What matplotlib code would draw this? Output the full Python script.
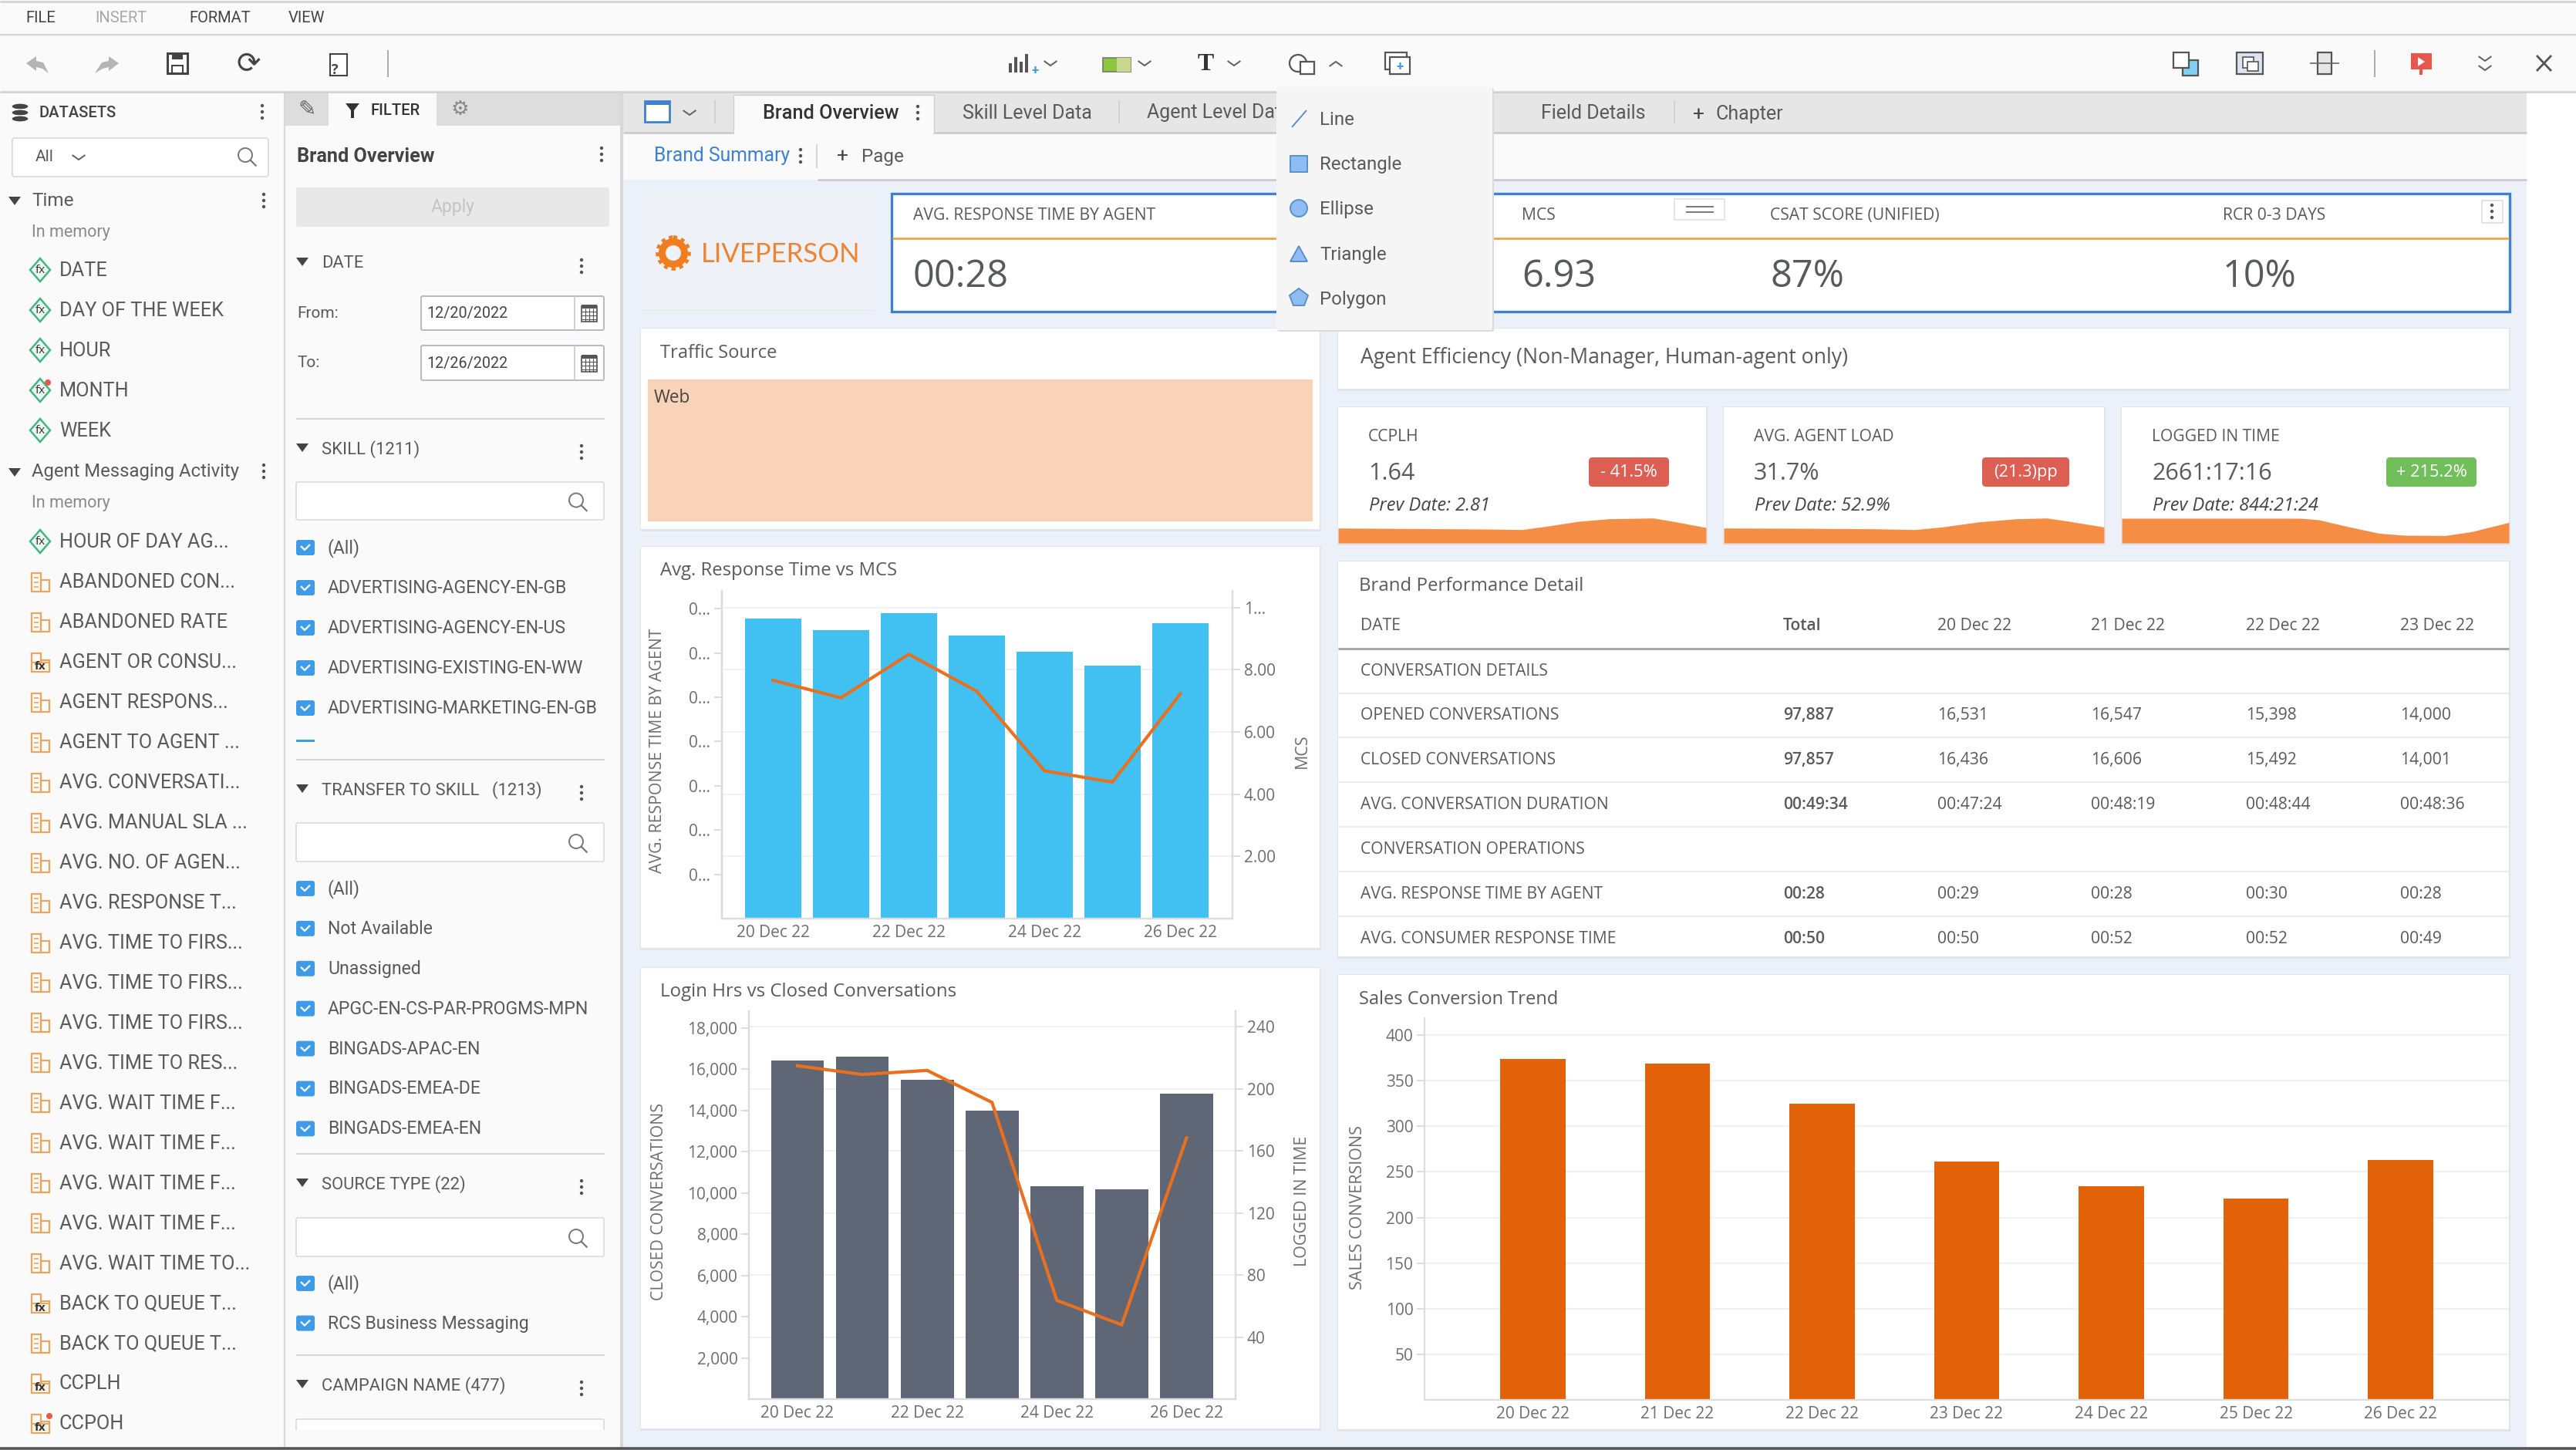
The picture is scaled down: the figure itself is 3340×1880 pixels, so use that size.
import matplotlib
matplotlib.use("Agg")
import matplotlib.pyplot as plt
from matplotlib.patches import Rectangle, FancyBboxPatch, Circle, Polygon, Ellipse
from matplotlib.transforms import blended_transform_factory

# ---------- data ----------
dates_all = ["20 Dec 22", "21 Dec 22", "22 Dec 22", "23 Dec 22", "24 Dec 22", "25 Dec 22", "26 Dec 22"]
dates_alt = ["20 Dec 22", "", "22 Dec 22", "", "24 Dec 22", "", "26 Dec 22"]

resp_time_days = [0.000339, 0.000326, 0.000345, 0.000320, 0.000301, 0.000286, 0.000334]
resp_ticks = [0.00005, 0.00010, 0.00015, 0.00020, 0.00025, 0.00030, 0.00035]
resp_tick_labels = ["0..."] * 7
mcs_values = [7.66, 7.10, 8.50, 7.31, 4.75, 4.39, 7.23]
mcs_ticks = [2, 4, 6, 8, 10]
mcs_tick_labels = ["2.00", "4.00", "6.00", "8.00", "1..."]

closed_conv = [16436, 16606, 15492, 14001, 10340, 10170, 14812]
closed_ticks = [2000, 4000, 6000, 8000, 10000, 12000, 14000, 16000, 18000]
logged_hours = [214.8, 209.2, 211.8, 191.2, 63.6, 47.9, 168.4]
logged_ticks = [40, 80, 120, 160, 200, 240]

sales_conv = [373.5, 368.5, 324.6, 261.7, 234.6, 220.9, 263.4]
sales_ticks = [50, 100, 150, 200, 250, 300, 350, 400]

spark_ccplh_x = [0, 100, 200, 245, 280, 320, 360, 420, 450, 490]
spark_ccplh = [58, 56, 54, 52, 66, 84, 94, 97, 82, 60]
spark_load_x = [0, 100, 200, 255, 290, 340, 390, 430, 460, 506]
spark_load = [58, 57, 55, 52, 62, 82, 94, 97, 84, 62]
spark_login_x = [0, 100, 240, 265, 300, 345, 380, 435, 470, 520]
spark_login = [96, 96, 96, 90, 66, 38, 30, 29, 44, 80]

kpi_top_labels = ["AVG. RESPONSE TIME BY AGENT", "MCS", "CSAT SCORE (UNIFIED)", "RCR 0-3 DAYS"]
kpi_top_values = ["00:28", "6.93", "87%", "10%"]

eff_labels = ["CCPLH", "AVG. AGENT LOAD", "LOGGED IN TIME"]
eff_values = ["1.64", "31.7%", "2661:17:16"]
eff_prev = ["Prev Date: 2.81", "Prev Date: 52.9%", "Prev Date: 844:21:24"]
eff_delta = ["- 41.5%", "(21.3)pp", "+ 215.2%"]

table_cols = ["DATE", "Total", "20 Dec 22", "21 Dec 22", "22 Dec 22", "23 Dec 22"]
table_rows = [
    ["CONVERSATION DETAILS", "", "", "", "", ""],
    ["OPENED CONVERSATIONS", "97,887", "16,531", "16,547", "15,398", "14,000"],
    ["CLOSED CONVERSATIONS", "97,857", "16,436", "16,606", "15,492", "14,001"],
    ["AVG. CONVERSATION DURATION", "00:49:34", "00:47:24", "00:48:19", "00:48:44", "00:48:36"],
    ["CONVERSATION OPERATIONS", "", "", "", "", ""],
    ["AVG. RESPONSE TIME BY AGENT", "00:28", "00:29", "00:28", "00:30", "00:28"],
    ["AVG. CONSUMER RESPONSE TIME", "00:50", "00:50", "00:52", "00:52", "00:49"],
]

time_fields = ["DATE", "DAY OF THE WEEK", "HOUR", "MONTH", "WEEK"]
activity_fields = ["HOUR OF DAY AG...", "ABANDONED CON...", "ABANDONED RATE", "AGENT OR CONSU...",
                   "AGENT RESPONS...", "AGENT TO AGENT ...", "AVG. CONVERSATI...", "AVG. MANUAL SLA ...",
                   "AVG. NO. OF AGEN...", "AVG. RESPONSE T...", "AVG. TIME TO FIRS...", "AVG. TIME TO FIRS...",
                   "AVG. TIME TO FIRS...", "AVG. TIME TO RES...", "AVG. WAIT TIME F...", "AVG. WAIT TIME F...",
                   "AVG. WAIT TIME F...", "AVG. WAIT TIME F...", "AVG. WAIT TIME TO...", "BACK TO QUEUE T...",
                   "BACK TO QUEUE T...", "CCPLH", "CCPOH"]
activity_kinds = ["d", "b", "b", "x", "b", "b", "b", "b", "b", "b", "b", "b", "b", "b", "b", "b", "b", "b", "b",
                  "x", "b", "x", "x"]
skill_items = ["(All)", "ADVERTISING-AGENCY-EN-GB", "ADVERTISING-AGENCY-EN-US",
               "ADVERTISING-EXISTING-EN-WW", "ADVERTISING-MARKETING-EN-GB"]
transfer_items = ["(All)", "Not Available", "Unassigned", "APGC-EN-CS-PAR-PROGMS-MPN",
                  "BINGADS-APAC-EN", "BINGADS-EMEA-DE", "BINGADS-EMEA-EN"]
source_items = ["(All)", "RCS Business Messaging"]
shape_items = ["Line", "Rectangle", "Ellipse", "Triangle", "Polygon"]

# ---------- colours / fonts ----------
BG = "#ECF0F8"; PANEL = "#FAFAFA"; TXT = "#5A5A5A"; GREYTXT = "#6E6E6E"
BLUE = "#41C1F2"; SLATE = "#5F6675"; ORANGE = "#E2620A"; LINE = "#E8701F"; AREA = "#F68D45"
UI = "Roboto"; DASH = "Open Sans"

W, H = 3340, 1880
fig = plt.figure(figsize=(W / 100, H / 100), dpi=100, facecolor="white")
ui = fig.add_axes([0, 0, 1, 1], zorder=0)
ui.set_xlim(0, W); ui.set_ylim(H, 0); ui.axis("off")


def rect(x0, y0, x1, y1, fc, ec="none", lw=0, z=1, ax=ui):
    ax.add_patch(Rectangle((x0, y0), x1 - x0, y1 - y0, fc=fc, ec=ec, lw=lw, zorder=z))


def rrect(x0, y0, x1, y1, fc, ec="none", lw=0, z=1, r=4):
    ui.add_patch(FancyBboxPatch((x0 + r, y0 + r), x1 - x0 - 2 * r, y1 - y0 - 2 * r,
                                boxstyle=f"round,pad={r},rounding_size={r}", fc=fc, ec=ec, lw=lw, zorder=z))


def T(x, y, s, size=15, color=TXT, fam=UI, ha="left", va="center", z=5, **kw):
    dy = 0 if kw.get("rotation") else 1.5
    ui.text(x, y + dy, s, fontsize=size, color=color, family=fam, ha=ha, va=va, zorder=z, **kw)


def L(xs, ys, c="#CCCCCC", lw=1.2, z=2, **kw):
    ui.plot(xs, ys, color=c, lw=lw, zorder=z, solid_capstyle=kw.pop("cap", "butt"), **kw)


def kebab(x, y, z=5, c="#555555"):
    for d in (-8, 0, 8):
        ui.add_patch(Circle((x, y + d), 2.2, fc=c, ec="none", zorder=z))


def tri(x, y, z=5):
    ui.add_patch(Polygon([(x - 8, y - 5), (x + 8, y - 5), (x, y + 6)], fc="#444444", ec="none", zorder=z))


def magnifier(x, y, r=9):
    ui.add_patch(Circle((x, y), r, fc="none", ec="#777777", lw=1.4, zorder=5))
    L([x + r * 0.7, x + r * 1.6], [y + r * 0.7, y + r * 1.6], c="#777777", lw=1.6, z=5)


def chevron(x, y, c="#666666", up=False, s=6):
    d = -s if up else s
    L([x - s * 1.4, x, x + s * 1.4], [y - d / 2, y + d / 2, y - d / 2], c=c, lw=1.5, z=5)


def card(x0, y0, x1, y1):
    rect(x0 - 1, y0 - 1, x1 + 2, y1 + 3, "#E0E4EC", z=1.5)
    rect(x0, y0, x1, y1, "white", z=2)


def fx_diamond(x, y):
    ui.add_patch(Polygon([(x - 13, y), (x, y - 15), (x + 13, y), (x, y + 15)], fc="#EAF6F0",
                         ec="#46B484", lw=1.8, zorder=4))
    T(x, y - 1, "fx", size=11, color="#333333", ha="center", fam=DASH)


def field_icon(x, y, fx=False):
    c = "#E9A65E"
    rect(x - 11, y - 11, x + 1, y + 13, "none", ec=c, lw=1.6, z=4)
    rect(x + 1, y - 2, x + 12, y + 13, "none", ec=c, lw=1.6, z=4)
    if fx:
        rect(x - 11, y + 1, x + 12, y + 13, "#FFF3E5", ec=c, lw=1.4, z=4.2)
        T(x, y + 5, "fx", size=11, color="#333333", ha="center", fam=DASH, weight="bold")
    else:
        for dy in (-5, 1, 7):
            L([x - 8, x - 2], [y + dy, y + dy], c=c, lw=1.2, z=4)


def checkbox(x, y):
    rrect(x - 12, y - 10, x + 12, y + 10, "#3E9BE8", r=3, z=4)
    L([x - 6, x - 1, x + 6], [y - 2, y + 3, y - 4], c="white", lw=1.6, z=5)


def calendar(x, y):
    rect(x - 10, y - 9, x + 10, y + 11, "white", ec="#555555", lw=1.2, z=5)
    rect(x - 10, y - 11, x + 10, y - 6, "#555555", z=5)
    for d in (-5, 0, 5):
        L([x + d, x + d], [y - 6, y + 11], c="#555555", lw=0.8, z=5)
        L([x - 10, x + 10], [y + d + 3, y + d + 3], c="#555555", lw=0.8, z=5)


# ---------- chrome ----------
rect(0, 0, W, H, "white", z=0)
rect(0, 0, W, 119, PANEL, z=0.5)
L([0, W], [1.5, 1.5], c="#D4D4D4", lw=2)
L([0, W], [45, 45], c="#D4D4D4", lw=1.6)
L([0, W], [119, 119], c="#CFCFCF", lw=1.8)
for x, s, c in [(33, "FILE", "#444444"), (123, "INSERT", "#A8A8A8"), (245, "FORMAT", "#444444"), (374, "VIEW", "#444444")]:
    T(x, 22, s, size=14.5, color=c)

# left toolbar icons
ui.add_patch(Polygon([(34, 82), (47, 73), (47, 79), (56, 81), (63, 95), (55, 89), (47, 87), (47, 92)], fc="#B4B4B4", zorder=4))
ui.add_patch(Polygon([(154, 82), (141, 73), (141, 79), (132, 81), (123, 95), (133, 89), (141, 87), (141, 92)], fc="#B4B4B4", zorder=4))
rect(217, 69, 243, 95, "white", ec="#444444", lw=2.2, z=4)
rect(223, 69, 237, 77, "#444444", z=4)
rect(223, 85, 237, 95, "none", ec="#444444", lw=1.5, z=4)
T(322, 82, "⟳", size=27, color="#444444", ha="center", fam="DejaVu Sans")
rect(428, 70, 450, 98, "white", ec="#444444", lw=1.5, z=4)
T(434, 90, "?", size=13, color="#444444", ha="center", fam=DASH, weight="bold")
L([503, 503], [65, 100], c="#AAAAAA", lw=1.4)

# centre toolbar icons
for i, h in enumerate((12, 20, 14, 24)):
    rect(1308 + i * 7, 94 - h, 1312 + i * 7, 94, "#555555", z=4)
T(1342, 90, "+", size=12, color="#3E9BE8", ha="center", weight="bold")
chevron(1362, 82)
rect(1430, 75, 1466, 93, "#8DC63F", ec="#777777", lw=1.2, z=4)
rect(1448, 75, 1466, 93, "#C8D88D", z=4.1)
chevron(1484, 82)
T(1563, 82, "T", size=23, color="#333333", ha="center", fam="Liberation Serif", weight="bold")
chevron(1600, 82)
ui.add_patch(Circle((1683, 82), 11, fc="white", ec="#555555", lw=1.6, zorder=4))
rect(1686, 80, 1704, 96, "white", ec="#555555", lw=1.6, z=4.2)
chevron(1732, 83, up=True)
rect(1796, 68, 1824, 90, "white", ec="#555555", lw=1.6, z=4)
rect(1802, 74, 1828, 96, "white", ec="#555555", lw=1.6, z=4.1)
T(1815, 85, "+", size=12, color="#3E9BE8", ha="center", weight="bold")

# right toolbar icons
rect(2818, 68, 2838, 88, "white", ec="#555555", lw=1.6, z=4)
rect(2830, 78, 2850, 98, "#7FD0F2", ec="#555555", lw=1.6, z=3.9)
rect(2900, 68, 2934, 96, "#DCE4F0", ec="#555555", lw=1.6, z=4)
rect(2908, 74, 2922, 88, "white", ec="#555555", lw=1.2, z=4.1)
rect(2914, 80, 2928, 92, "white", ec="#555555", lw=1.2, z=4.2)
rect(3005, 68, 3023, 96, "#E6E6E6", ec="#555555", lw=1.6, z=4)
L([2995, 3033], [82, 82], c="#666666", lw=1.2, z=4.5)
L([3079, 3079], [65, 100], c="#AAAAAA", lw=1.4)
rect(3126, 69, 3153, 90, "#E8574B", z=4)
L([3139, 3139], [90, 97], c="#E8574B", lw=3, z=4)
ui.add_patch(Polygon([(3135, 74), (3144, 80), (3135, 86)], fc="white", zorder=5))
chevron(3222, 76); chevron(3222, 88)
L([3289, 3308], [72, 92], c="#555555", lw=2, z=5)
L([3289, 3308], [92, 72], c="#555555", lw=2, z=5)

# side panels
rect(0, 119, 369, 1878, PANEL, z=0.5)
rect(369, 119, 808, 1878, PANEL, z=0.5)
L([369, 369], [119, 1878], c="#D8D8D8", lw=1.6)
L([806, 806], [119, 1878], c="#D8D8D8", lw=3)
rect(370, 120, 426, 163, "#DDDDDD", z=1)
rect(566, 120, 805, 163, "#DDDDDD", z=1)
L([0, W], [1878, 1878], c="#555555", lw=2.6, z=6)

# datasets panel
for dy in (-8, 0, 8):
    ui.add_patch(Ellipse((26, 146 + dy), 22, 8, fc="#444444", ec="white", lw=0.8, zorder=4))
T(51, 145, "DATASETS", size=14.5, color="#444444", weight="medium")
kebab(340, 145)
rrect(16, 179, 348, 229, "white", ec="#D8D8D8", lw=1.2, z=2, r=3)
T(46, 202, "All", size=15)
chevron(102, 204)
magnifier(318, 201)
tri(19, 260)
T(41, 259, "Time", size=17.5)
kebab(342, 260)
T(41, 300, "In memory", size=15.5, color="#8A8A8A")
for i, s in enumerate(time_fields):
    y = 350 + i * 52
    fx_diamond(52, y)
    T(77, y, s, size=18.2)
ui.add_patch(Circle((62, 496), 4, fc="#E8574B", zorder=5))
tri(19, 612)
T(41, 610, "Agent Messaging Activity", size=17.2)
kebab(342, 611)
T(41, 651, "In memory", size=15.5, color="#8A8A8A")
for i, (s, k) in enumerate(zip(activity_fields, activity_kinds)):
    y = 702 + i * 51.95
    if k == "d":
        fx_diamond(52, y)
    else:
        field_icon(52, y, fx=(k == "x"))
    T(77, y, s, size=18.2)
ui.add_patch(Circle((64, 1836), 4, fc="#E8574B", zorder=5))

# filter panel
T(481, 142, "FILTER", size=14.5, color="#333333", weight="medium")
ui.add_patch(Polygon([(448, 134), (466, 134), (459, 143), (459, 153), (455, 153), (455, 143)], fc="#333333", zorder=4))
T(398, 141, "✎", size=20, color="#666666", ha="center", fam="DejaVu Sans")
T(596, 140, "⚙", size=19, color="#888888", ha="center", fam="DejaVu Sans")
T(385, 201, "Brand Overview", size=18.2, color="#444444", weight="bold")
kebab(780, 200)
rrect(384, 243, 790, 294, "#E8E8E8", r=3)
T(587, 267, "Apply", size=16.5, color="#C4C4C4", ha="center")


def filter_head(y, s):
    tri(392, y - 2)
    T(417, y - 1, s, size=15.8)
    kebab(754, y + 4)


filter_head(341, "DATE")
for lab, y0, y1, d in [("From:", 384, 428, "12/20/2022"), ("To:", 448, 493, "12/26/2022")]:
    T(385, (y0 + y1) / 2 - 1, lab, size=15)
    rrect(546, y0, 783, y1, "white", ec="#B9B9C4", lw=1.4, z=2, r=2)
    L([745, 745], [y0, y1], c="#C8C8C8", lw=1.2, z=3)
    T(553, (y0 + y1) / 2 - 1, d, size=14.2, color="#444444")
    calendar(764, (y0 + y1) / 2)


def search_box(y0, y1):
    rrect(384, y0, 783, y1, "white", ec="#DADADA", lw=1.2, z=2, r=2)
    magnifier(747, (y0 + y1) / 2 - 1)


def check_list(items, y0, step):
    for i, s in enumerate(items):
        y = y0 + i * step
        checkbox(396, y)
        T(425, y - 1, s, size=16.6)


L([384, 784], [543, 543], c="#D4D4D4", lw=1.4)
filter_head(582, "SKILL (1211)")
search_box(625, 674)
check_list(skill_items, 710, 52)
rect(384, 959, 408, 961.5, "#3E9BE8", z=4)
L([384, 784], [985, 985], c="#D4D4D4", lw=1.4)
filter_head(1024, "TRANSFER TO SKILL   (1213)")
search_box(1067, 1117)
check_list(transfer_items, 1152, 51.9)
L([384, 784], [1496, 1496], c="#D4D4D4", lw=1.4)
filter_head(1535, "SOURCE TYPE (22)")
search_box(1579, 1629)
check_list(source_items, 1664, 51.6)
L([384, 784], [1757, 1757], c="#D4D4D4", lw=1.4)
filter_head(1796, "CAMPAIGN NAME (477)")
rrect(384, 1840, 783, 1870, "white", ec="#DADADA", lw=1.2, z=2, r=2)
rect(380, 1854, 790, 1877, PANEL, z=3)

# main area
rect(808, 119, 3276, 172, "#E6E6E6", z=0.6)
rect(808, 172, 3276, 233, PANEL, z=0.6)
rect(808, 233, 3276, 1878, BG, z=0.6)
L([808, 3276], [172, 172], c="#C8C8C8", lw=1.8)
L([1060, 3276], [233, 233], c="#C8C8C8", lw=1.8)
rect(951, 123, 1211, 173, PANEL, ec="#CFCFCF", lw=1, z=2.5)
rect(952, 168, 1210, 175, PANEL, z=2.6)
rect(836, 131, 868, 158, "white", ec="#3E82CF", lw=2, z=3)
rect(836, 131, 868, 136, "#3E82CF", z=3)
chevron(894, 146)
L([927, 927], [130, 160], c="#CFCFCF")
T(989, 145, "Brand Overview", size=18.2, color="#333333", weight="medium", fam=UI)
kebab(1190, 146)
T(1248, 145, "Skill Level Data", size=18)
L([1451, 1451], [130, 160], c="#CFCFCF")
T(1487, 145, "Agent Level Data", size=18)
T(1998, 145, "Field Details", size=18)
L([2171, 2171], [130, 160], c="#CFCFCF")
T(2195, 147, "+", size=19, color="#444444")
T(2224, 147, "Chapter", size=18)
T(848, 201, "Brand Summary", size=17.8, color="#3E82CF")
kebab(1038, 202)
L([1059, 1059], [187, 218], c="#CFCFCF")
T(1085, 202, "+", size=19, color="#444444")
T(1117, 202, "Page", size=17.5)

# logo
rect(832, 252, 1133, 402, "#EEF1F8", z=1)
rect(832, 400, 1133, 403, "#E0E4EC", z=0.9)
ui.add_patch(Circle((873, 328), 14.5, fc="none", ec="#F07D1E", lw=6.5, zorder=4))
ui.add_patch(Circle((873, 328), 20, fc="none", ec="#F07D1E", lw=4, ls=(0, (0.9, 0.9)), zorder=4))
T(909, 328, "LIVEPERSON", size=25, color="#EE8433", fam="Lato")

# top KPI
rect(1156, 251, 3254, 404, "white", ec="#3E82CF", lw=2.4, z=2)
L([1157, 3253], [309, 309], c="#E6A84F", lw=2, z=3)
for x, lab, val in zip([1184, 1973, 2295, 2882], kpi_top_labels, kpi_top_values):
    T(x, 278, lab, size=15.2, fam=DASH)
    T(x, 358, val, size=35, color="#58595B", fam=DASH)
rect(2171, 258, 2236, 285, "white", ec="#E2E2E2", lw=1.2, z=4)
L([2186, 2222], [268, 268], c="#777777", lw=1.4, z=5)
L([2186, 2222], [275, 275], c="#777777", lw=1.4, z=5)
rect(3218, 260, 3245, 289, "white", ec="#DDDDDD", lw=1.2, z=4)
kebab(3231, 274)

# cards
card(831, 426, 1711, 686)
T(856, 456, "Traffic Source", size=17, fam=DASH)
rect(840, 492, 1702, 676, "#F9D3B8", z=3)
T(848, 514, "Web", size=16.3, color="#444444", fam=DASH)

card(1735, 426, 3253, 504)
T(1764, 463, "Agent Efficiency (Non-Manager, Human-agent only)", size=19.2, fam=DASH)

eff_cards = [(1735, 2212, 2060, 2164, "#DD5F54"), (2235, 2728, 2570, 2683, "#DD5F54"), (2751, 3253, 3094, 3211, "#71BF5B")]
sparks = [(spark_ccplh_x, spark_ccplh), (spark_load_x, spark_load), (spark_login_x, spark_login)]
for (x0, x1, b0, b1, bc), lab, val, prev, d, (sx, sy) in zip(eff_cards, eff_labels, eff_values, eff_prev, eff_delta, sparks):
    card(x0, 528, x1, 704)
    T(x0 + 39, 565, lab, size=15.2, fam=DASH)
    T(x0 + 39, 613, val, size=22, fam=DASH)
    T(x0 + 40, 654, prev, size=17, color="#444444", fam=DASH, style="italic")
    rrect(b0, 593, b1, 631, bc, r=5, z=4)
    T((b0 + b1) / 2, 611, d, size=15.7, color="white", ha="center", fam=DASH)
    sax = fig.add_axes([x0 / W, 1 - 704 / H, (x1 - x0) / W, 40 / H], zorder=3)
    sax.fill_between(sx, sy, 0, color=AREA, lw=0)
    sax.set_xlim(min(sx), max(sx)); sax.set_ylim(0, 120); sax.axis("off")

card(1735, 728, 3253, 1240)
T(1762, 758, "Brand Performance Detail", size=17.3, fam=DASH)
col_x = [1764, 2312, 2512, 2711, 2912, 3112]
for x, s in zip(col_x, table_cols):
    T(x, 810, s, size=15.2, fam=DASH, weight="semibold" if s == "Total" else "normal")
L([1735, 3253], [840.5, 840.5], c="#A8A8A8", lw=2.2, z=3)
for i, row in enumerate(table_rows):
    y = 868.5 + i * 57.9
    for j, (x, s) in enumerate(zip(col_x, row)):
        T(x, y, s, size=15.2, fam=DASH, weight="semibold" if j == 1 else "normal")
    if i < len(table_rows) - 1:
        L([1735, 3253], [y + 30, y + 30], c="#ECECEC", lw=1.6, z=3)

card(831, 709, 1711, 1229)
T(856, 739, "Avg. Response Time vs MCS", size=17.2, fam=DASH)
card(831, 1255, 1711, 1852)
T(856, 1284, "Login Hrs vs Closed Conversations", size=17.3, fam=DASH)
card(1735, 1264, 3253, 1853)
T(1762, 1294, "Sales Conversion Trend", size=17, fam=DASH)

# popup
rrect(1656, 114, 1937, 430, "#DADADA", r=3, z=6.9)
rrect(1655, 113, 1935, 428, "#F5F5F5", r=3, z=7)
for i, s in enumerate(shape_items):
    y = 154 + i * 58.2
    T(1711, y, s, size=17.3, z=8)
cfc, cec = "#8FBDF2", "#5B8FCB"
L([1675, 1694], [165, 143], c="#5B8FCB", lw=1.4, z=8)
rect(1673, 202, 1695, 223, cfc, ec=cec, lw=1.4, z=8)
ui.add_patch(Circle((1684, 270), 11, fc=cfc, ec=cec, lw=1.4, zorder=8))
ui.add_patch(Polygon([(1673, 339), (1695, 339), (1684, 319)], fc=cfc, ec=cec, lw=1.4, zorder=8))
ui.add_patch(Polygon([(1684, 374), (1696, 383), (1691, 396), (1677, 396), (1672, 383)], fc=cfc, ec=cec, lw=1.4, zorder=8))


# ---------- charts ----------
def px_axes(l, t, r, b):
    ax = fig.add_axes([l / W, 1 - b / H, (r - l) / W, (b - t) / H], zorder=3)
    ax.patch.set_alpha(0)
    return ax


def style(ax, sides):
    for k, sp in ax.spines.items():
        sp.set_visible(k in sides)
        sp.set_color("#DCDCDC"); sp.set_linewidth(1.6)
    ax.tick_params(axis="both", labelsize=15, colors="#DCDCDC", labelcolor=GREYTXT, width=1.4, length=7)
    for t_ in ax.get_xticklabels() + ax.get_yticklabels():
        t_.set_family(DASH)


xs = list(range(7))


def combo(box, bars, bar_col, width, xlim, ylim_l, ticks_l, labels_l, line, ylim_r, ticks_r, labels_r, xlab_l, xlab_r, ly, rx, tpad):
    ax = px_axes(*box)
    ax2 = ax.twinx()
    ax2.patch.set_alpha(0)
    ax.bar(xs, bars, width=width, color=bar_col, zorder=2)
    ax2.plot(xs, line, color=LINE, lw=3, solid_joinstyle="miter")
    ax.set_xlim(*xlim); ax.set_ylim(*ylim_l); ax2.set_ylim(*ylim_r)
    ax.set_yticks(ticks_l, labels_l); ax2.set_yticks(ticks_r, labels_r)
    ax.set_xticks(xs, dates_alt)
    tr = blended_transform_factory(ax.transAxes, ax2.transData)
    for v in ticks_r:
        ax.plot([0, 1], [v, v], transform=tr, color="#F1F1F1", lw=1.4, zorder=0.5)
    style(ax, ("left", "bottom", "right")); style(ax2, ("left", "bottom", "right"))
    ax.tick_params(axis="x", length=0, pad=tpad)
    T(ly, (box[1] + box[3]) / 2 - 5, xlab_l, size=15.3, color=GREYTXT, ha="center", rotation=90, fam=DASH)
    T(rx, (box[1] + box[3]) / 2 - 5, xlab_r, size=15.5, color=GREYTXT, ha="center", rotation=90, fam=DASH)


combo((936, 766, 1598, 1191), resp_time_days, BLUE, 0.827, (-0.753, 6.767), (0, 0.0003702), resp_ticks, resp_tick_labels,
      mcs_values, (0, 10.54), mcs_ticks, mcs_tick_labels, "AVG. RESPONSE TIME BY AGENT", "MCS", 852, 1688, 6)
combo((971, 1311, 1602, 1814), closed_conv, SLATE, 0.818, (-0.748, 6.755), (0, 18817),
      closed_ticks, [f"{v:,}" for v in closed_ticks], logged_hours, (0, 250), logged_ticks, [str(v) for v in logged_ticks],
      "CLOSED CONVERSATIONS", "LOGGED IN TIME", 855, 1688, 6)

ax3 = px_axes(1847, 1320, 3253, 1815)
ax3.bar(xs, sales_conv, width=0.451, color=ORANGE, zorder=2)
ax3.set_xlim(-0.748, 6.748); ax3.set_ylim(0, 418.7)
ax3.set_yticks(sales_ticks, [str(v) for v in sales_ticks])
ax3.set_xticks(xs, dates_all)
ax3.yaxis.grid(True, color="#F1F1F1", lw=1.6); ax3.set_axisbelow(True)
style(ax3, ("left", "bottom"))
ax3.tick_params(axis="x", length=0, pad=6)
T(1760, 1566, "SALES CONVERSIONS", size=15.5, color=GREYTXT, ha="center", rotation=90, fam=DASH)

fig.savefig("out.png", dpi=100, facecolor="white")
